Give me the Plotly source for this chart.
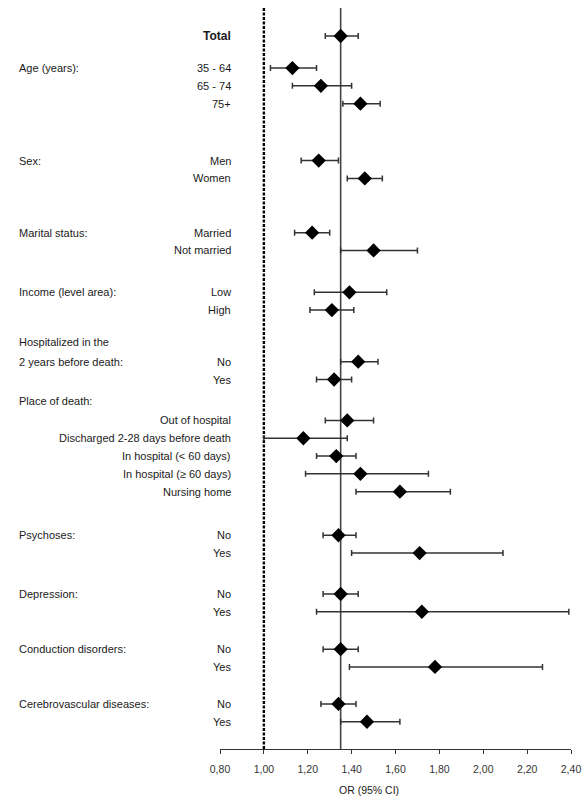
import plotly.graph_objects as go

# ---- data ----
headings = ["", "Age (years):", "Sex:", "Marital status:", "Income (level area):",
            "Hospitalized in the<br>2 years before death:", "Place of death:",
            "Psychoses:", "Depression:", "Conduction disorders:", "Cerebrovascular diseases:"]
sublabels = [
    ["Total"],
    ["35 - 64", "65 - 74", "75+"],
    ["Men", "Women"],
    ["Married", "Not married"],
    ["Low", "High"],
    ["No", "Yes"],
    ["Out of hospital", "Discharged 2-28 days before death", "In hospital (< 60 days)",
     "In hospital (\u2265 60 days)", "Nursing home"],
    ["No", "Yes"],
    ["No", "Yes"],
    ["No", "Yes"],
    ["No", "Yes"],
]
or_vals = [1.35,
           1.13, 1.26, 1.44,
           1.25, 1.46,
           1.22, 1.50,
           1.39, 1.31,
           1.43, 1.32,
           1.38, 1.18, 1.33, 1.44, 1.62,
           1.34, 1.71,
           1.35, 1.72,
           1.35, 1.78,
           1.34, 1.47]
ci_low = [1.28,
          1.03, 1.13, 1.36,
          1.17, 1.38,
          1.14, 1.35,
          1.23, 1.21,
          1.35, 1.24,
          1.28, 1.00, 1.24, 1.19, 1.42,
          1.27, 1.40,
          1.27, 1.24,
          1.27, 1.39,
          1.26, 1.35]
ci_high = [1.43,
           1.24, 1.40, 1.53,
           1.34, 1.54,
           1.30, 1.70,
           1.56, 1.41,
           1.52, 1.40,
           1.50, 1.38, 1.42, 1.75, 1.85,
           1.42, 2.09,
           1.43, 2.39,
           1.43, 2.27,
           1.42, 1.62]
ref_or = 1.35
null_or = 1.00
x_ticks = [0.80, 1.00, 1.20, 1.40, 1.60, 1.80, 2.00, 2.20, 2.40]

# ---- layout of rows (row units) ----
gaps = [0, 1.8, 3.2, 3.05, 2.35, 2.9, 1.2, 2.45, 2.3, 2.1, 2.08]
own_heading_row = [False] * len(headings)
own_heading_row[6] = True

row_y, heading_y = [], []
last = None
for gi, subs in enumerate(sublabels):
    pos = 0.0 if gi == 0 else last + gaps[gi]
    heading_y.append(pos)
    if own_heading_row[gi]:
        pos += 1.1
    for k, s in enumerate(subs):
        row_y.append(pos + k)
    last = pos + len(subs) - 1

flat_labels = [s for subs in sublabels for s in subs]

fig = go.Figure()
fig.add_trace(go.Scatter(
    x=or_vals, y=row_y, mode="markers",
    marker=dict(symbol="diamond", size=11, color="black"),
    error_x=dict(type="data", symmetric=False,
                 array=[h - o for h, o in zip(ci_high, or_vals)],
                 arrayminus=[o - l for o, l in zip(or_vals, ci_low)],
                 color="#333333", thickness=1.5, width=3),
    showlegend=False, hoverinfo="skip"))

fig.add_shape(type="line", xref="x", yref="paper", x0=null_or, x1=null_or, y0=0, y1=1,
              line=dict(color="black", width=2.4, dash="3px,1.5px"), layer="below")
fig.add_shape(type="line", xref="x", yref="paper", x0=ref_or, x1=ref_or, y0=0, y1=1,
              line=dict(color="#444444", width=1.6), layer="below")

font_c = "#1a1a1a"
for i, (lab, y) in enumerate(zip(flat_labels, row_y)):
    fig.add_annotation(x=0, xref="paper", xanchor="right", xshift=13, y=y, yref="y",
                       text=("<b>%s</b>" % lab) if i == 0 else lab, showarrow=False,
                       font=dict(size=12 if i == 0 else 11, color=font_c))
for gi, h in enumerate(headings):
    if not h:
        continue
    y = heading_y[gi]
    lines = h.split("<br>")
    for li, line in enumerate(reversed(lines)):
        fig.add_annotation(x=0, xref="paper", xanchor="left", xshift=-203,
                           y=y - 1.12 * li, yref="y", yanchor="middle", text=line,
                           showarrow=False, font=dict(size=11, color=font_c))

fig.add_annotation(x=1.48, xref="x", y=-0.0665, yref="paper", text="OR (95% CI)",
                   showarrow=False, font=dict(size=10.5, color=font_c))

fig.update_layout(
    width=584, height=802,
    margin=dict(l=220, r=13, t=8, b=53),
    paper_bgcolor="white", plot_bgcolor="white",
    separators=", ",
    font=dict(family="Arial, Liberation Sans, sans-serif", size=11, color=font_c),
    xaxis=dict(range=[0.8, 2.4], tickvals=x_ticks, tickformat=".2f", automargin=False,
               showgrid=False, zeroline=False, showline=True, linecolor="#333333",
               linewidth=1.2, ticks="outside", ticklen=4, tickcolor="#333333",
               ticklabelstandoff=6, tickfont=dict(size=10.5, color="#333333")),
    yaxis=dict(range=[40.06, -1.573], visible=False, showgrid=False, zeroline=False,
               automargin=False),
)

fig.write_html("out.html", config={"displayModeBar": False},
               post_script="document.body.style.margin='0px';document.body.style.overflow='hidden';")
